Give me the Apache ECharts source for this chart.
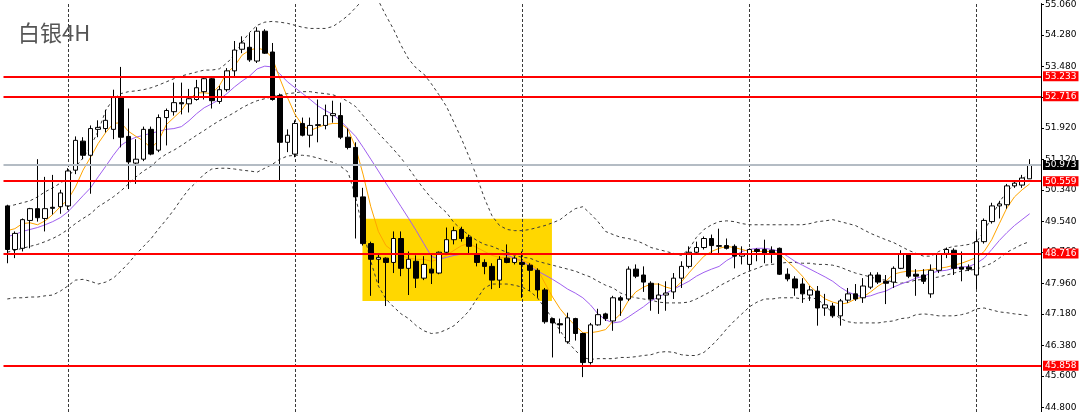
<!DOCTYPE html>
<html><head><meta charset="utf-8">
<script src="https://cdn.jsdelivr.net/npm/echarts@6/dist/echarts.min.js"></script>
<style>html,body{margin:0;padding:0;background:#fff}#c{width:1080px;height:412px}</style>
</head><body><div id="c"></div>
<script>
// ---- data (4H silver candles) ----
const opens = [49.93,48.82,48.85,49.56,49.86,49.61,49.895,49.91,49.93,50.84, 51.58,51.22,51.88,51.90,51.88,52.71,51.70,51.02,51.12,51.88, 51.35,52.18,52.33,52.56,52.53,52.64,52.84,53.17,52.59,52.89, 53.37,53.92,53.97,53.62,54.38,53.85,52.74,51.55,51.25,52.03, 51.73,51.98,51.98,52.23,52.23,51.68,51.42,50.16,48.97,48.57, 48.60,48.49,49.10,48.34,48.52,48.09,48.32,48.22,48.75,49.07, 49.33,49.13,48.70,48.49,48.39,48.04,48.60,48.49,48.49,48.42, 48.29,47.79,47.06,46.93,46.47,47.06,46.68,45.94,46.90,47.18, 47.00,47.59,47.56,48.32,48.17,47.96,47.56,47.66,47.74,48.09, 48.39,48.75,48.87,49.10,48.90,48.92,48.90,48.65,48.44,48.82, 48.82,48.80,48.85,48.19,48.07,47.94,47.66,47.76,47.33,47.38, 47.13,47.53,47.69,47.59,47.86,48.17,48.01,47.99,48.34,48.70, 48.19,48.17,47.69,48.29,48.72,48.80,48.37,48.37,48.17,49.02, 49.53,49.93,49.96,50.44,50.46,50.62];
const closes = [48.82,49.23,49.58,49.86,49.63,49.86,49.87,50.26,50.82,51.60, 51.22,51.90,51.93,52.11,52.69,51.68,51.05,51.12,51.88,51.25, 52.18,52.36,52.56,52.53,52.66,52.94,53.17,52.61,52.89,53.37, 53.90,54.08,53.65,54.38,53.82,52.64,51.55,51.73,52.03,51.73, 51.98,52.00,52.23,52.28,51.68,51.42,50.16,48.97,48.57,48.62, 48.49,49.10,48.34,48.57,48.09,48.44,48.22,48.75,49.07,49.30, 49.10,48.90,48.49,48.39,48.04,48.57,48.49,48.60,48.44,48.29, 47.79,46.98,46.95,46.90,47.08,46.68,45.94,46.90,47.16,47.06, 47.59,47.53,48.32,48.14,47.99,47.56,47.66,47.71,48.09,48.39, 48.75,48.87,49.10,48.92,48.92,48.85,48.65,48.70,48.82,48.77, 48.70,48.70,48.19,48.07,47.84,47.69,47.79,47.33,47.41,47.13, 47.51,47.69,47.56,47.89,48.17,47.99,47.96,48.34,48.70,48.14, 48.14,48.01,48.29,48.70,48.82,48.34,48.32,48.32,49.02,49.56, 49.93,49.98,50.44,50.51,50.64,50.97];
const lows = [48.47,48.60,48.77,48.85,49.53,49.28,49.71,49.73,49.83,50.74, 51.12,50.24,51.68,51.80,51.63,51.42,50.36,50.49,51.07,51.22, 51.30,51.47,52.23,52.26,52.31,52.61,52.64,52.41,52.53,52.84, 53.24,53.82,53.60,53.57,53.80,52.61,50.59,51.30,51.17,51.70, 51.42,51.55,51.88,52.05,51.63,51.37,49.10,48.92,47.64,47.96, 47.38,48.22,48.14,47.66,47.84,48.04,47.94,48.19,48.70,48.95, 49.02,48.72,48.39,48.19,47.81,47.84,48.47,48.44,47.59,47.76, 47.59,46.93,46.07,46.68,46.42,46.50,45.57,45.89,46.88,47.00, 46.75,47.13,47.51,48.09,47.74,47.26,47.18,47.26,47.56,47.84, 48.34,48.70,48.82,48.70,48.70,48.82,48.34,48.44,48.29,48.52, 48.47,48.47,48.17,48.01,47.64,47.46,47.51,46.88,47.13,47.08, 46.88,47.46,47.51,47.46,47.81,47.94,47.43,47.84,48.32,48.09, 47.64,47.94,47.59,48.22,48.60,48.17,48.01,48.27,47.81,48.97, 49.48,49.61,49.86,50.39,50.39,50.62];
const highs = [49.96,49.28,49.61,49.88,51.12,50.67,50.72,50.34,50.89,51.70, 51.68,51.98,52.11,52.38,52.89,53.47,52.41,51.63,51.95,51.95, 52.26,52.41,53.07,53.07,52.91,53.14,53.19,53.22,52.99,53.44, 54.13,54.25,54.33,54.48,54.43,54.08,52.79,51.88,52.11,52.18, 52.18,52.64,52.51,52.61,52.56,51.90,51.55,50.39,49.02,48.70, 48.62,49.28,49.28,48.77,48.67,48.65,48.72,48.77,49.38,49.40, 49.40,49.20,48.97,48.57,48.47,48.65,48.95,48.65,48.77,48.47, 48.34,47.84,47.08,47.06,47.21,47.08,46.70,46.95,47.31,47.21, 47.64,47.64,48.39,48.44,48.39,48.01,47.96,48.01,48.22,48.52, 48.90,49.02,49.15,49.20,49.35,49.10,48.95,48.90,48.85,48.85, 49.07,48.90,48.87,48.34,48.14,48.09,47.89,47.89,47.69,47.46, 47.56,47.84,47.94,48.09,48.24,48.24,48.17,48.39,48.80,48.72, 48.32,48.32,48.44,48.72,48.87,48.85,48.77,48.44,49.28,49.61, 50.01,50.06,50.49,50.59,50.72,51.12];
const maFast = [49.30,49.35,49.48,49.50,49.45,49.55,49.71,49.91,50.09,50.41, 50.84,51.17,51.52,51.80,52.03,52.05,51.83,51.70,51.58,51.40, 51.60,52.00,52.18,52.36,52.64,52.81,52.81,52.79,52.99,53.32, 53.49,53.77,53.90,53.95,53.90,53.70,53.17,52.69,52.26,51.98, 51.85,51.93,52.00,52.03,52.03,51.88,51.42,50.72,49.91,49.28, 48.92,48.77,48.67,48.60,48.57,48.57,48.52,48.57,48.67,48.80, 48.92,48.97,48.87,48.77,48.67,48.62,48.60,48.57,48.54,48.47, 48.32,47.96,47.61,47.31,47.08,46.88,46.70,46.70,46.73,46.78, 47.00,47.18,47.51,47.74,47.86,47.94,47.94,47.86,47.81,47.99, 48.22,48.44,48.65,48.77,48.85,48.90,48.87,48.82,48.77,48.77, 48.77,48.77,48.70,48.52,48.34,48.14,47.89,47.71,47.56,47.48, 47.43,47.46,47.56,47.61,47.74,47.89,48.01,48.19,48.24,48.27, 48.27,48.29,48.32,48.34,48.37,48.42,48.47,48.54,48.62,48.77, 49.07,49.48,49.88,50.16,50.34,50.49];
const maSlow = [49.15,49.20,49.28,49.33,49.38,49.45,49.53,49.63,49.78,49.98, 50.19,50.39,50.67,50.94,51.22,51.47,51.60,51.68,51.73,51.78, 51.83,51.88,51.90,51.95,52.10,52.28,52.43,52.53,52.64,52.79, 52.96,53.11,53.24,53.42,53.49,53.47,53.29,53.09,52.94,52.79, 52.64,52.48,52.36,52.26,52.10,51.90,51.70,51.42,51.12,50.82, 50.51,50.21,49.91,49.61,49.30,48.97,48.65,48.57,48.62,48.67, 48.70,48.70,48.70,48.72,48.72,48.70,48.67,48.60,48.52,48.39, 48.27,48.17,48.06,47.94,47.81,47.71,47.59,47.41,47.18,47.03, 46.95,46.98,47.10,47.23,47.36,47.51,47.61,47.71,47.81,47.91, 48.01,48.14,48.24,48.32,48.39,48.54,48.65,48.77,48.82,48.85, 48.85,48.82,48.77,48.65,48.52,48.42,48.32,48.22,48.12,48.01, 47.86,47.74,47.66,47.61,47.64,47.71,47.76,47.86,47.94,48.01, 48.09,48.14,48.22,48.27,48.29,48.34,48.37,48.39,48.47,48.60, 48.82,49.05,49.25,49.43,49.58,49.73];
const bbUpper = [49.91,49.96,50.01,50.06,50.16,50.29,50.39,50.51,50.64,50.92, 51.15,51.45,51.83,52.36,52.66,52.79,52.84,52.86,52.89,52.94, 53.01,53.09,53.17,53.24,53.29,53.34,53.39,53.39,53.42,53.57, 53.77,54.10,54.35,54.53,54.61,54.63,54.61,54.58,54.53,54.48, 54.45,54.45,54.45,54.50,54.63,54.78,54.98,55.19,55.29,55.16, 54.78,54.43,54.02,53.67,53.44,53.29,53.04,52.76,52.46,52.05, 51.63,51.17,50.67,50.13,49.68,49.43,49.33,49.30,49.30,49.33, 49.38,49.43,49.50,49.58,49.73,49.86,49.91,49.73,49.53,49.28, 49.20,49.13,49.10,49.05,48.97,48.87,48.82,48.77,48.72,48.67, 48.82,49.13,49.33,49.45,49.53,49.55,49.53,49.48,49.45,49.45, 49.45,49.45,49.45,49.45,49.45,49.45,49.48,49.53,49.55,49.58, 49.53,49.48,49.43,49.33,49.23,49.15,49.07,49.00,48.90,48.80, 48.72,48.65,48.65,48.77,48.85,48.90,48.92,48.95,49.02,49.28, 49.66,50.03,50.29,50.49,50.62,50.74];
const bbMiddle = [48.75,48.80,48.85,48.90,48.95,49.02,49.10,49.20,49.33,49.48, 49.61,49.73,49.91,50.03,50.16,50.31,50.49,50.67,50.82,50.94, 51.12,51.25,51.35,51.47,51.60,51.73,51.85,51.98,52.10,52.20, 52.31,52.43,52.53,52.61,52.66,52.71,52.76,52.79,52.81,52.84, 52.84,52.81,52.79,52.76,52.69,52.59,52.46,52.23,52.00,51.78, 51.58,51.37,51.15,50.89,50.62,50.36,50.13,49.93,49.76,49.50, 49.33,49.18,49.05,48.95,48.90,48.82,48.75,48.67,48.62,48.60, 48.52,48.47,48.42,48.37,48.32,48.27,48.19,48.12,48.01,47.91, 47.84,47.71,47.64,47.59,47.56,47.53,47.48,47.46,47.46,47.46, 47.48,47.56,47.66,47.76,47.89,47.99,48.09,48.19,48.27,48.34, 48.42,48.44,48.47,48.49,48.49,48.47,48.47,48.44,48.44,48.42, 48.37,48.29,48.22,48.17,48.12,48.06,48.04,47.99,47.96,47.99, 48.04,48.06,48.09,48.12,48.17,48.22,48.27,48.29,48.32,48.39, 48.47,48.60,48.75,48.85,48.95,49.02];
const bbLower = [47.56,47.59,47.59,47.61,47.61,47.64,47.66,47.76,47.89,48.04, 48.06,48.01,47.94,47.99,48.09,48.27,48.47,48.70,48.90,49.10, 49.35,49.58,49.83,50.11,50.36,50.54,50.74,50.87,50.89,50.89, 50.87,50.84,50.82,50.79,50.89,50.99,51.12,51.20,51.22,51.22, 51.20,51.15,51.09,51.04,50.94,50.79,50.16,49.28,48.52,47.89, 47.56,47.36,47.18,47.06,46.88,46.75,46.68,46.70,46.78,46.88, 47.06,47.26,47.56,47.84,47.94,47.94,47.94,47.91,47.86,47.76, 47.59,47.33,47.06,46.75,46.47,46.25,46.07,46.02,46.04,46.04, 46.04,46.07,46.07,46.09,46.12,46.14,46.20,46.22,46.20,46.14, 46.12,46.12,46.20,46.37,46.57,46.80,47.00,47.18,47.36,47.48, 47.56,47.56,47.59,47.59,47.59,47.56,47.59,47.56,47.38,47.21, 47.06,46.98,46.95,46.95,46.95,46.95,46.98,47.00,47.06,47.08, 47.16,47.18,47.16,47.13,47.13,47.13,47.16,47.21,47.31,47.33, 47.28,47.23,47.21,47.18,47.16,47.13];
const levels = [53.233, 52.716, 50.559, 48.716, 45.858];
const lastPrice = 50.973;
const yTicks = [55.06, 54.28, 53.48, 52.70, 51.92, 51.12, 50.34, 49.54, 48.76, 47.96, 47.18, 46.38, 45.60, 44.80];
const separatorBars = [8, 38, 68, 98, 128];
const zoneBars = [46.9, 71.92];
const zonePrices = [49.60, 47.51];
const title = '白银4H';

// ---- build chart ----
const categories = opens.map((_, i) => String(i)).concat(['']);
const candleData = opens.map((o, i) => [o, closes[i], lows[i], highs[i]]);
const FONT = 'DejaVu Sans';

function barX(api, f) {
  const i = Math.floor(f);
  const a = api.coord([i, zonePrices[0]])[0];
  const b = api.coord([i + 1, zonePrices[0]])[0];
  return a + (b - a) * (f - i);
}

const dashed = { color: '#3a3a3a', width: 1, type: [3, 3] };
function lineSeries(data, style, z) {
  return { type: 'line', data: data, symbol: 'none', showSymbol: false, silent: true,
    lineStyle: style, z: z, animation: false };
}

const chart = echarts.init(document.getElementById('c'), null, { renderer: 'canvas' });
chart.setOption({
  animation: false,
  backgroundColor: '#ffffff',
  title: { text: title, left: 13, top: 17,
    textStyle: { fontSize: 22, fontWeight: 'normal', color: '#555555', fontFamily: 'Noto Sans CJK SC' } },
  grid: { left: 3.5, right: 39, top: 0, bottom: 0, containLabel: false },
  xAxis: { type: 'category', data: categories, boundaryGap: true, show: false },
  yAxis: {
    type: 'value', position: 'right', min: 44.681, max: 55.085, scale: true,
    axisLine: { show: true, lineStyle: { color: '#000', width: 1 } },
    axisTick: { show: true, inside: false, length: 3, customValues: yTicks, lineStyle: { color: '#000' } },
    axisLabel: { show: true, customValues: yTicks, margin: 4, fontSize: 9, color: '#000', fontFamily: FONT,
      formatter: v => Number(v).toFixed(3) },
    splitLine: { show: false }
  },
  series: [
    { type: 'custom', z: 1, silent: true, data: [[0, zonePrices[0]]],
      renderItem: function (params, api) {
        const x0 = barX(api, zoneBars[0]), x1 = barX(api, zoneBars[1]);
        const y0 = api.coord([0, zonePrices[0]])[1], y1 = api.coord([0, zonePrices[1]])[1];
        return { type: 'rect', shape: { x: x0, y: y0, width: x1 - x0, height: y1 - y0 }, style: { fill: '#ffd700' } };
      },
      markLine: { silent: true, symbol: ['none', 'none'], z: 2, animation: false,
        lineStyle: { color: '#3a3a3a', width: 1, type: [3, 2] }, label: { show: false },
        data: separatorBars.map(b => ({ xAxis: String(b) })) }
    },
    lineSeries(bbUpper, dashed, 3),
    lineSeries(bbMiddle, dashed, 3),
    lineSeries(bbLower, dashed, 3),
    lineSeries(maSlow, { color: '#a05ff0', width: 1 }, 4),
    lineSeries(maFast, { color: '#ffa500', width: 1 }, 4),
    { type: 'candlestick', data: candleData, barWidth: 5, z: 5, silent: true,
      itemStyle: { color: '#ffffff', color0: '#000000', borderColor: '#000000', borderColor0: '#000000', borderWidth: 1 },
      markLine: { silent: true, symbol: ['none', 'none'], z: 6, animation: false,
        data: levels.map(v => ({ yAxis: v,
          lineStyle: { color: '#ff0000', width: 2, type: 'solid' },
          label: { show: true, position: 'end', distance: 2, formatter: v.toFixed(3), color: '#fff',
            backgroundColor: '#ff0000', fontSize: 9, fontFamily: FONT, padding: [1, 2, 0, 2] } }))
          .concat([{ yAxis: lastPrice,
            lineStyle: { color: '#b4bcc4', width: 2, type: 'solid' },
            label: { show: true, position: 'end', distance: 2, formatter: lastPrice.toFixed(3), color: '#fff',
              backgroundColor: '#000000', fontSize: 9, fontFamily: FONT, padding: [1, 2, 0, 2] } }])
      }
    }
  ]
});
</script></body></html>
